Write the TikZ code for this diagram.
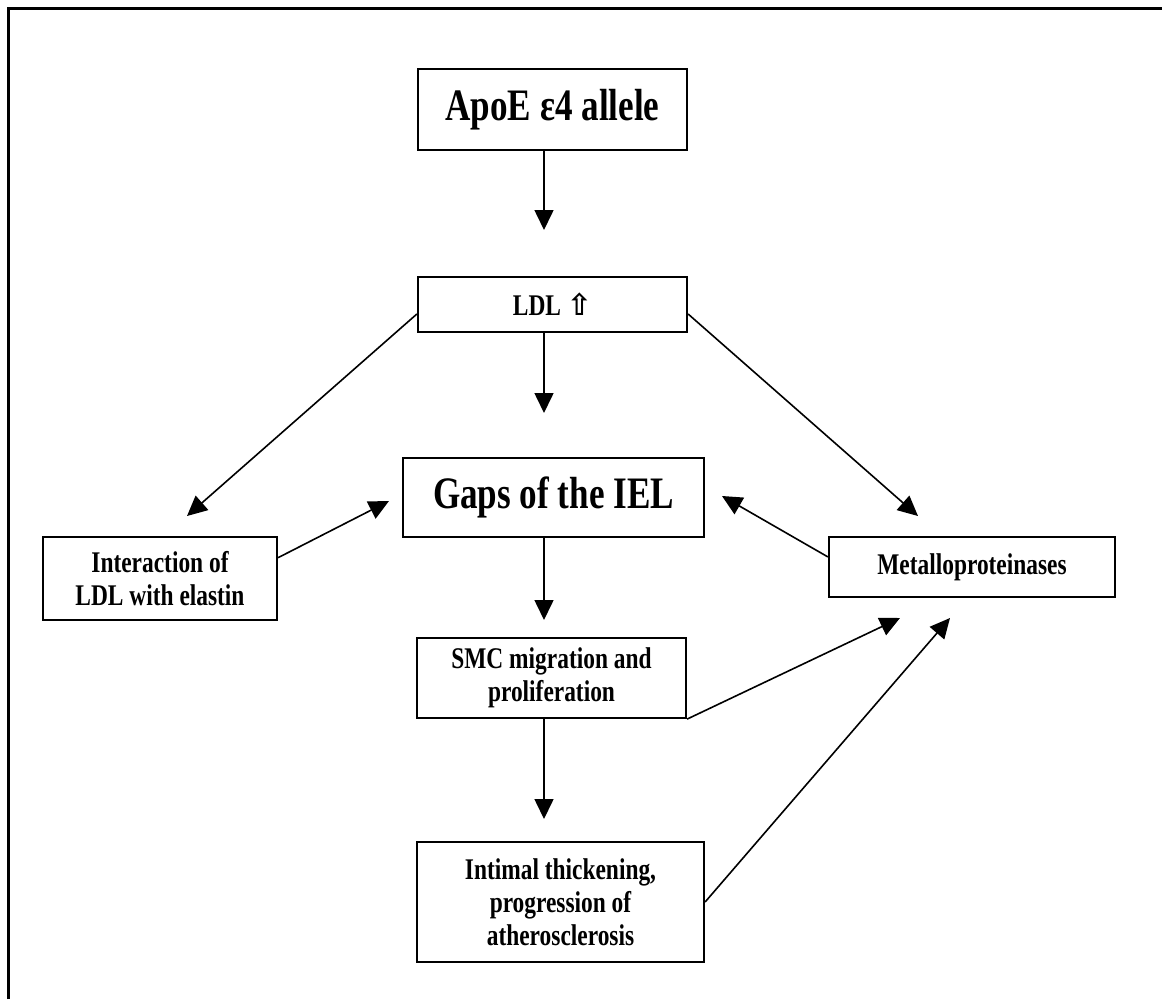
\documentclass[tikz,border=0pt]{standalone}
\usepackage{fontspec}
\setmainfont{Liberation Serif}[FakeStretch=0.78]
\newfontfamily\symfont{DejaVu Sans}
\usetikzlibrary{arrows.meta}

\begin{document}
\begin{tikzpicture}[x=1pt,y=-1pt, every node/.style={align=center}, box/.style={draw,line width=2.2pt,inner sep=0pt}, big/.style={font=\bfseries\fontsize{45}{50}\selectfont}, small/.style={font=\bfseries\fontsize{30}{33}\selectfont}, flow/.style={-{Triangle[length=20pt,width=19pt]},line width=1.6pt}]
\useasboundingbox (0,0) rectangle (1162,999);
\draw[line width=3pt] (8,999) -- (8,8) -- (1162,8);
% boxes
\node[box,big,minimum width=269,minimum height=81] (apoe) at (552.5,109.5) {ApoE ε4 allele};
\node[box,small,minimum width=269,minimum height=55] (ldl) at (552.5,304.5) {LDL {\symfont ⇧}};
\node[box,big,minimum width=301,minimum height=79] (gaps) at (553.5,497.5) {Gaps of the IEL};
\node[box,small,minimum width=234,minimum height=83] (inter) at (160,578.5) {Interaction of\\LDL with elastin};
\node[box,small,minimum width=286,minimum height=60] (metal) at (972,567) {Metalloproteinases};
\node[box,small,minimum width=269,minimum height=80] (smc) at (551.5,678) {SMC migration and\\proliferation};
\node[box,small,minimum width=287,minimum height=120] (intimal) at (560.5,902) {Intimal thickening,\\progression of\\atherosclerosis};
% arrow tips
\coordinate (t1) at (544,230);
\coordinate (t2) at (544,413);
\coordinate (t3) at (544,620);
\coordinate (t4) at (544,819);
\coordinate (tinter) at (187,516);
\coordinate (tgapsl) at (389,501);
\coordinate (tmetal) at (918,516);
\coordinate (tgapsr) at (722,496);
\coordinate (tsmc) at (900,618);
\coordinate (tint) at (950,618);
% arrows
\draw[flow] (apoe.south -| t1) -- (t1);
\draw[flow] (ldl.south -| t2) -- (t2);
\draw[flow] (gaps.south -| t3) -- (t3);
\draw[flow] (smc.south -| t4) -- (t4);
\draw[flow] (ldl.184) -- (tinter);
\draw[flow] (ldl.-4) -- (tmetal);
\draw[flow] (inter.10) -- (tgapsl);
\draw[flow] (metal.176) -- (tgapsr);
\draw[flow] (smc.south east) -- (tsmc);
\draw[flow] (intimal.east) -- (tint);
\end{tikzpicture}
\end{document}
